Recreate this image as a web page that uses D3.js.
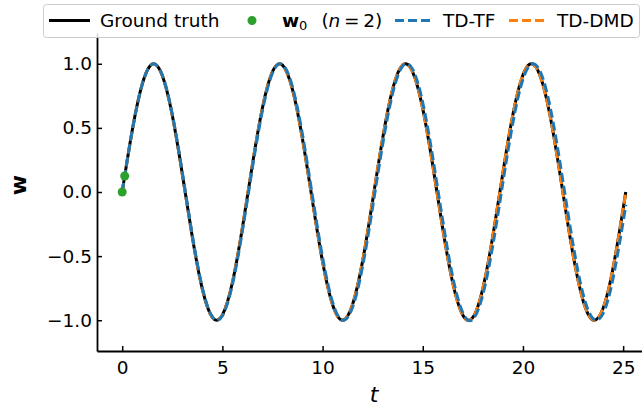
<!DOCTYPE html>
<html>
<head>
<meta charset="utf-8">
<script src="https://cdn.jsdelivr.net/npm/d3@7"></script>
<style>
  body { margin: 0; background: #fff; }
  svg { display: block; font-family: "DejaVu Sans", sans-serif; }
</style>
</head>
<body>
<svg width="642" height="407"></svg>
<script>
// sample times
const times = [0, 0.5, 1, 1.5, 2, 2.5, 3, 3.5, 4, 4.5, 5, 5.5, 6, 6.5, 7, 7.5, 8, 8.5, 9, 9.5,
  10, 10.5, 11, 11.5, 12, 12.5, 13, 13.5, 14, 14.5, 15, 15.5, 16, 16.5, 17, 17.5, 18, 18.5, 19, 19.5,
  20, 20.5, 21, 21.5, 22, 22.5, 23, 23.5, 24, 24.5, 25, 25.13];

const groundTruth = [0, 0.479, 0.841, 0.997, 0.909, 0.598, 0.141, -0.351, -0.757, -0.978,
  -0.959, -0.706, -0.279, 0.215, 0.657, 0.938, 0.989, 0.798, 0.412, -0.075,
  -0.544, -0.88, -1.0, -0.875, -0.537, -0.066, 0.42, 0.804, 0.991, 0.935,
  0.65, 0.207, -0.288, -0.712, -0.961, -0.978, -0.751, -0.342, 0.15, 0.605,
  0.913, 0.997, 0.837, 0.471, -0.009, -0.488, -0.846, -0.998, -0.906, -0.591, -0.132, 0.0];

const tdTF = [0, 0.477, 0.839, 0.997, 0.912, 0.606, 0.153, -0.338, -0.747, -0.974,
  -0.965, -0.722, -0.302, 0.19, 0.636, 0.928, 0.994, 0.818, 0.445, -0.037,
  -0.51, -0.86, -1.0, -0.897, -0.578, -0.116, 0.373, 0.772, 0.983, 0.956,
  0.696, 0.268, -0.227, -0.666, -0.942, -0.993, -0.799, -0.412, 0.075, 0.543,
  0.88, 1.0, 0.883, 0.547, 0.079, -0.409, -0.797, -0.988, -0.947, -0.67, -0.231, -0.1];

const tdDMD = [0, 0.479, 0.841, 0.997, 0.909, 0.598, 0.141, -0.351, -0.757, -0.978,
  -0.959, -0.706, -0.279, 0.215, 0.657, 0.938, 0.989, 0.798, 0.412, -0.075,
  -0.544, -0.88, -1.0, -0.875, -0.537, -0.066, 0.42, 0.804, 0.991, 0.935,
  0.65, 0.207, -0.288, -0.712, -0.961, -0.978, -0.751, -0.342, 0.15, 0.605,
  0.913, 0.997, 0.837, 0.471, -0.009, -0.488, -0.846, -0.998, -0.906, -0.591, -0.132, 0.0];

const w0Times = [0, 0.126];
const w0Values = [0, 0.125];

const xTicks = [0, 5, 10, 15, 20, 25];
const yTicks = [-1.0, -0.5, 0.0, 0.5, 1.0];

const svg = d3.select("svg");
const margin = { left: 97, top: 33, right: 0, bottom: 351 };
const fs = 18.5;

const x = d3.scaleLinear().domain([-1.257, 26.39]).range([margin.left, 651]);
const y = d3.scaleLinear().domain([-1.24, 1.24]).range([margin.bottom, margin.top]);

svg.append("defs").append("clipPath").attr("id", "plotclip")
  .append("rect").attr("x", margin.left).attr("y", margin.top)
  .attr("width", 651 - margin.left).attr("height", margin.bottom - margin.top);

const line = (ts, vs) => d3.line()
  .x((d, i) => x(ts[i]))
  .y((d) => y(d))
  .curve(d3.curveNatural)(vs);

const plot = svg.append("g").attr("clip-path", "url(#plotclip)");

plot.append("path").attr("d", line(times, groundTruth))
  .attr("fill", "none").attr("stroke", "#000").attr("stroke-width", 3);
// DMD under TF: they overlap early, so only blue shows there
plot.append("path").attr("d", line(times, tdDMD))
  .attr("fill", "none").attr("stroke", "#ff7f0e").attr("stroke-width", 3)
  .attr("stroke-dasharray", "9,4");
plot.append("path").attr("d", line(times, tdTF))
  .attr("fill", "none").attr("stroke", "#1f77b4").attr("stroke-width", 3)
  .attr("stroke-dasharray", "9,4");

plot.selectAll("circle.w0").data(w0Values).enter().append("circle")
  .attr("class", "w0")
  .attr("cx", (d, i) => x(w0Times[i]))
  .attr("cy", (d) => y(d))
  .attr("r", 4.5)
  .attr("fill", "#2ca02c");

// axes (ticks inward)
const xAxis = svg.append("g").attr("transform", `translate(0,${margin.bottom})`)
  .call(d3.axisBottom(x).tickValues(xTicks).tickSizeInner(-5).tickSizeOuter(0).tickPadding(10)
    .tickFormat(d3.format("d")));
const yAxis = svg.append("g").attr("transform", `translate(${margin.left},0)`)
  .call(d3.axisLeft(y).tickValues(yTicks).tickSizeInner(-5).tickSizeOuter(0).tickPadding(5)
    .tickFormat((d) => d3.format(".1f")(d).replace("-", "\u2212")));

[xAxis, yAxis].forEach((a) => {
  a.select(".domain").attr("stroke-width", 1.8);
  a.selectAll(".tick line").attr("stroke-width", 1.5);
  a.selectAll(".tick text").attr("font-size", fs).attr("fill", "#000")
    .attr("font-family", "DejaVu Sans");
});

svg.append("text").attr("x", 374).attr("y", 402)
  .attr("text-anchor", "middle").attr("font-size", 22).attr("font-style", "italic")
  .text("t");
svg.append("text").attr("transform", "translate(26,185) rotate(-90)")
  .attr("text-anchor", "middle").attr("font-size", 22).attr("font-weight", "bold")
  .text("w");

// legend
const lg = svg.append("g");
lg.append("rect").attr("x", 43.5).attr("y", 4.5).attr("width", 596).attr("height", 33)
  .attr("rx", 3).attr("fill", "#fff").attr("fill-opacity", 0.85)
  .attr("stroke", "#ccc").attr("stroke-width", 1);
const ly = 20.5;
const tb = ly + 6.5;
lg.append("line").attr("x1", 49).attr("x2", 90).attr("y1", ly).attr("y2", ly)
  .attr("stroke", "#000").attr("stroke-width", 3);
lg.append("text").attr("x", 100).attr("y", tb).attr("font-size", fs).text("Ground truth");
lg.append("circle").attr("cx", 252).attr("cy", ly).attr("r", 4.5).attr("fill", "#2ca02c");
const wt = lg.append("text").attr("x", 282).attr("y", tb).attr("font-size", fs);
wt.append("tspan").attr("font-weight", "bold").text("w");
wt.append("tspan").attr("font-size", 13).attr("dy", 3).text("0");
wt.append("tspan").attr("dy", -3).attr("dx", 14).text("(");
wt.append("tspan").attr("font-style", "italic").text("n");
wt.append("tspan").text("\u2009=\u20092)");
lg.append("line").attr("x1", 395).attr("x2", 432).attr("y1", ly).attr("y2", ly)
  .attr("stroke", "#1f77b4").attr("stroke-width", 3).attr("stroke-dasharray", "9,4");
lg.append("text").attr("x", 443).attr("y", tb).attr("font-size", fs).text("TD-TF");
lg.append("line").attr("x1", 509).attr("x2", 546).attr("y1", ly).attr("y2", ly)
  .attr("stroke", "#ff7f0e").attr("stroke-width", 3).attr("stroke-dasharray", "9,4");
lg.append("text").attr("x", 557).attr("y", tb).attr("font-size", fs).text("TD-DMD");
</script>
</body>
</html>
